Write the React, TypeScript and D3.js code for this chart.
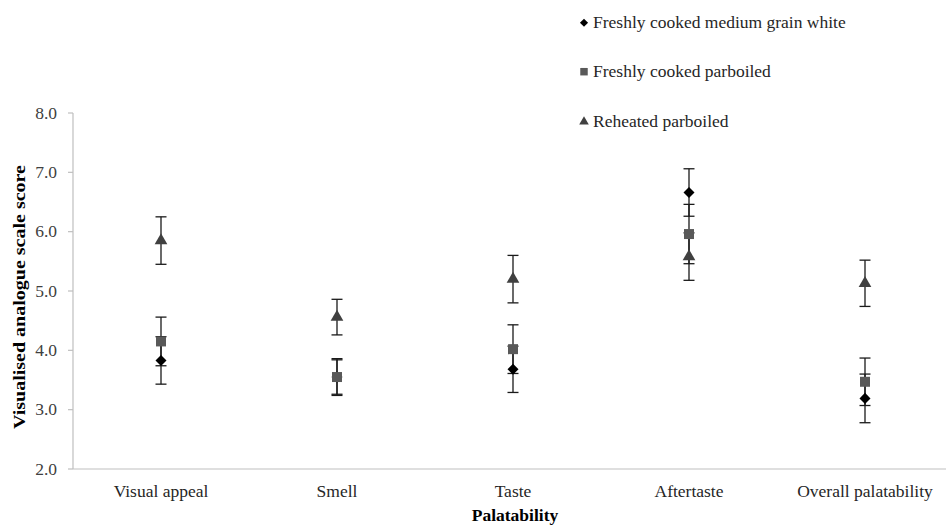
import React from "react";
import * as d3 from "d3";

const categories = ["Visual appeal", "Smell", "Taste", "Aftertaste", "Overall palatability"];
const seriesNames = ["Freshly cooked medium grain white", "Freshly cooked parboiled", "Reheated parboiled"];
const whiteMean = [3.83, 3.55, 3.68, 6.66, 3.19];
const whiteErr = [0.4, 0.29, 0.39, 0.4, 0.41];
const parMean = [4.15, 3.55, 4.02, 5.96, 3.47];
const parErr = [0.41, 0.31, 0.41, 0.5, 0.4];
const reheatMean = [5.85, 4.56, 5.2, 5.58, 5.13];
const reheatErr = [0.4, 0.3, 0.4, 0.4, 0.39];
const yTicks = [2, 3, 4, 5, 6, 7, 8];

const W = 946, H = 525;
const left = 73, right = 953, top = 113, bottom = 469;
const font = "Liberation Serif, Times New Roman, DejaVu Serif, serif";
const FS = 17.5;

export default function App() {
  const x = d3.scaleBand<string>().domain(categories).range([left, right]);
  const y = d3.scaleLinear().domain([2, 8]).range([bottom, top]);
  const cx = (c: string) => (x(c) as number) + x.bandwidth() / 2;

  const series = [
    { name: seriesNames[0], mean: whiteMean, err: whiteErr, shape: d3.symbolDiamond2, size: 78, lsize: 42, color: "#000000" },
    { name: seriesNames[1], mean: parMean, err: parErr, shape: d3.symbolSquare, size: 100, lsize: 56, color: "#595959" },
    { name: seriesNames[2], mean: reheatMean, err: reheatErr, shape: d3.symbolTriangle, size: 70, lsize: 40, color: "#404040" },
  ];
  const sym = (s: any, size: number) => d3.symbol().type(s).size(size)() as string;
  const legendY = [22.7, 71.7, 121.7];
  const txt = { fontFamily: font };

  return (
    <div style={{ position: "fixed", left: 0, top: 0 }}>
      <svg width={W} height={H} style={{ display: "block", background: "#fff", fontFamily: font }}>
        <line x1={left} x2={W} y1={bottom} y2={bottom} stroke="#bfbfbf" strokeWidth={1.2} />
        <line x1={left} x2={left} y1={top} y2={bottom} stroke="#bfbfbf" strokeWidth={1.2} />
        {yTicks.map((t) => (
          <g key={t}>
            <line x1={left - 5} x2={left} y1={y(t)} y2={y(t)} stroke="#bfbfbf" strokeWidth={1.2} />
            <text x={left - 16} y={y(t)} dy="0.32em" textAnchor="end" style={txt} fontSize={FS} fill="#404040">
              {t.toFixed(1)}
            </text>
          </g>
        ))}
        {categories.map((c) => (
          <text key={c} x={cx(c)} y={497} textAnchor="middle" style={txt} fontSize={FS} fill="#262626">
            {c}
          </text>
        ))}
        <text x={515} y={521} textAnchor="middle" style={txt} fontSize={FS} fontWeight="bold" fill="#000">
          Palatability
        </text>
        <text
          transform={`translate(25,297) rotate(-90)`}
          textAnchor="middle"
          style={txt}
          fontSize={FS}
          fontWeight="bold"
          fill="#000"
          textLength={264}
          lengthAdjust="spacingAndGlyphs"
        >
          Visualised  analogue scale score
        </text>
        {series.map((s) =>
          categories.map((c, i) => {
            const xc = cx(c);
            const hi = y(s.mean[i] + s.err[i]);
            const lo = y(s.mean[i] - s.err[i]);
            return (
              <g key={s.name + c} stroke="#1a1a1a" strokeWidth={1.3}>
                <line x1={xc} x2={xc} y1={hi} y2={lo} />
                <line x1={xc - 5.5} x2={xc + 5.5} y1={hi} y2={hi} />
                <line x1={xc - 5.5} x2={xc + 5.5} y1={lo} y2={lo} />
              </g>
            );
          })
        )}
        {series.map((s) =>
          categories.map((c, i) => (
            <path
              key={"m" + s.name + c}
              d={sym(s.shape, s.size)}
              transform={`translate(${cx(c)},${y(s.mean[i])})`}
              fill={s.color}
            />
          ))
        )}
        {series.map((s, i) => (
          <g key={"l" + s.name} transform={`translate(584,${legendY[i]})`}>
            <path d={sym(s.shape, s.lsize)} fill={s.color} />
            <text x={9} y={0} dy="0.32em" style={txt} fontSize={FS} fill="#262626">
              {s.name}
            </text>
          </g>
        ))}
      </svg>
    </div>
  );
}
